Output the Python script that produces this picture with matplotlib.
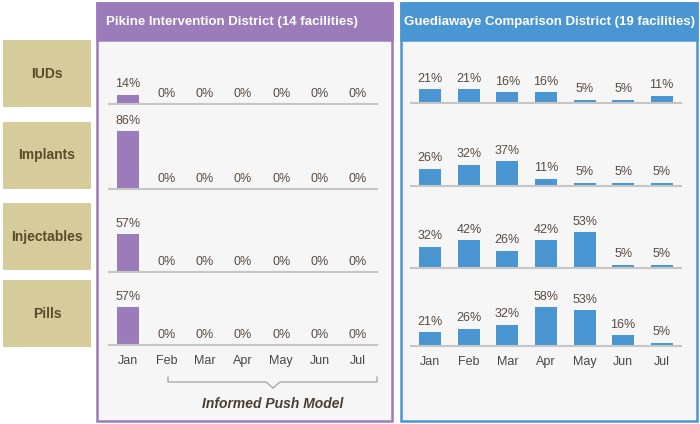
import matplotlib
matplotlib.use("Agg")
import matplotlib.pyplot as plt
from matplotlib.patches import Rectangle

plt.rcParams['font.family'] = ['Liberation Sans', 'DejaVu Sans']

months = ["Jan", "Feb", "Mar", "Apr", "May", "Jun", "Jul"]
methods = ["IUDs", "Implants", "Injectables", "Pills"]

pikine_title = "Pikine Intervention District (14 facilities)"
guedi_title = "Guediawaye Comparison District (19 facilities)"

pikine_iuds = [14, 0, 0, 0, 0, 0, 0]
pikine_implants = [86, 0, 0, 0, 0, 0, 0]
pikine_injectables = [57, 0, 0, 0, 0, 0, 0]
pikine_pills = [57, 0, 0, 0, 0, 0, 0]

guedi_iuds = [21, 21, 16, 16, 5, 5, 11]
guedi_implants = [26, 32, 37, 11, 5, 5, 5]
guedi_injectables = [32, 42, 26, 42, 53, 5, 5]
guedi_pills = [21, 26, 32, 58, 53, 16, 5]

push_label = "Informed Push Model"

PURPLE = "#9b7bb9"
BLUE = "#4a96d3"
TAN = "#d6cc9b"
PANEL = "#f6f6f6"
PCT_C = "#5a4b41"
MON_C = "#4d4646"
ROW_C = "#5c4a2c"

W, H = 700, 424
fig = plt.figure(figsize=(W / 100, H / 100), dpi=100)
fig.patch.set_facecolor("white")

# background layer in pixel coords (y down)
bg = fig.add_axes([0, 0, 1, 1])
bg.set_xlim(0, W)
bg.set_ylim(H, 0)
bg.axis("off")

# panels
for x0, x1, col, title, tx, ha in [(97, 392, PURPLE, pikine_title, 106, "left"),
                                   (401, 697, BLUE, guedi_title, 549, "center")]:
    bg.add_patch(Rectangle((x0, 3), x1 - x0, 418, facecolor=PANEL, edgecolor=col, lw=1.8))
    bg.add_patch(Rectangle((x0, 3), x1 - x0, 37, facecolor=col, edgecolor=col, lw=1.8))
    bg.text(tx, 21.5, title, color="white", fontsize=9.5, fontweight="bold",
            ha=ha, va="center")

# row label boxes
row_boxes = [(40, 107), (122, 189), (203, 270), (280, 347)]
for (y0, y1), name in zip(row_boxes, methods):
    bg.add_patch(Rectangle((3, y0), 88, y1 - y0, facecolor=TAN, edgecolor="none"))
    bg.text(47, (y0 + y1) / 2, name, color=ROW_C, fontsize=10, fontweight="bold",
            ha="center", va="center")

# bracket under Feb-Jul
bx0, bx1, bxc, by = 168, 377, 273, 382
bg.plot([bx0, bx0, bxc - 7, bxc, bxc + 7, bx1, bx1],
        [by - 5, by, by, by + 6, by, by, by - 5], color="#a0a0a0", lw=0.9)
bg.text(bxc, 404, push_label, color="#4a3d33", fontsize=10, fontweight="bold",
        style="italic", ha="center", va="center")

left_rows = [pikine_iuds, pikine_implants, pikine_injectables, pikine_pills]
right_rows = [guedi_iuds, guedi_implants, guedi_injectables, guedi_pills]
left_base = [104, 189, 272, 345]
right_base = [103, 186, 268, 346]

PX_PER_PCT = 0.67
AX_H = 75


def draw_row(vals, base, xlo, xhi, color, show_months):
    ax = fig.add_axes([xlo / W, (H - base) / H, (xhi - xlo) / W, AX_H / H])
    ax.patch.set_alpha(0)
    x = list(range(len(months)))
    ax.bar(x, vals, width=0.57, color=color)
    ax.set_xlim(-0.5, 6.5)
    ax.set_ylim(0, AX_H / PX_PER_PCT)
    for s in ["top", "left", "right"]:
        ax.spines[s].set_visible(False)
    ax.spines["bottom"].set_color("#c6c6c6")
    ax.spines["bottom"].set_linewidth(1.5)
    ax.set_yticks([])
    ax.set_xticks(x)
    if show_months:
        ax.set_xticklabels(months, fontsize=9, color=MON_C)
        ax.tick_params(axis="x", length=0, pad=7.5)
    else:
        ax.set_xticklabels([])
        ax.tick_params(axis="x", length=0)
    for i, v in enumerate(vals):
        ax.annotate(f"{v}%", (i, v), xytext=(0, 3), textcoords="offset points",
                    ha="center", va="bottom", fontsize=9, color=PCT_C)
    return ax


for k in range(4):
    draw_row(left_rows[k], left_base[k], 109, 377, PURPLE, k == 3)
    draw_row(right_rows[k], right_base[k], 411, 681, BLUE, k == 3)

fig.savefig("out.png", dpi=100)
